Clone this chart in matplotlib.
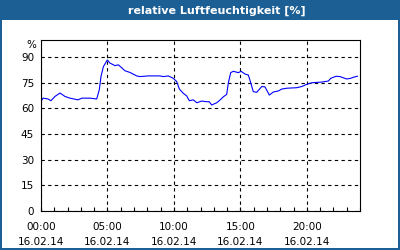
#!/usr/bin/env python3

"""
Relative Luftfeuchtigkeit over one day (16.02.14), drawn as a line chart.
"""

import matplotlib
matplotlib.use('Agg')
import matplotlib.pyplot as plt
from matplotlib.patches import Rectangle
from matplotlib.ticker import MultipleLocator

# Hours since 00:00 and humidity values
hours = [0.0, 0.15, 0.53, 0.75, 1.05, 1.43, 1.8, 2.18, 2.78, 3.08, 3.69, 4.19,
         4.39, 4.51, 4.69, 4.99, 5.19, 5.57, 5.82, 6.32, 6.7, 7.2, 7.45, 8.07,
         8.95, 9.2, 9.58, 9.95, 10.21, 10.41, 10.71, 10.96, 11.16, 11.46, 11.72,
         12.09, 12.47, 12.66, 12.84, 13.22, 13.47, 13.72, 13.97, 14.09, 14.27,
         14.47, 14.85, 15.05, 15.35, 15.6, 15.78, 15.97, 16.23, 16.61, 16.85,
         17.18, 17.48, 17.86, 18.11, 18.49, 19.24, 19.62, 20.0, 20.37, 21.12,
         21.62, 21.8, 22.2, 22.5, 23.0, 23.3, 23.5, 23.8]
humidity = [64, 66, 65.5, 64.5, 67, 69, 67, 66, 65, 66, 66, 65.5,
            71, 78.5, 84.4, 88.3, 86.5, 85, 85.5, 82, 81, 79, 78.6, 79,
            79, 78.6, 79, 77.6, 75.7, 71.3, 68.8, 67.3, 64.5, 65, 63.3,
            64.3, 63.9, 63.9, 62, 63.3, 64.9, 66.8, 68.2, 74.7, 80.9,
            81.7, 80.9, 81.7, 80.1, 79.5, 75, 69.8, 69.4, 72.8, 72.6,
            67.8, 69.6, 70.2, 71.3, 71.8, 72.1, 72.8, 74.1, 75, 75.4,
            76, 77.6, 78.8, 78.6, 77.2, 77.6, 78.2, 78.8]

tickHours = [0, 5, 10, 15, 20]
tickLabels = ['00:00\n16.02.14', '05:00\n16.02.14', '10:00\n16.02.14',
              '15:00\n16.02.14', '20:00\n16.02.14']
yTicks = [0, 15, 30, 45, 60, 75, 90]

titleText = 'relative Luftfeuchtigkeit [%]'
frameBlue = '#1c5f95'


def main():
    W, H = 400, 250
    fig = plt.figure(figsize=(W / 100, H / 100), dpi=100, facecolor=frameBlue)

    # White body below the title bar
    fig.patches.append(Rectangle((2 / W, 2 / H), (W - 4) / W, (H - 22) / H,
                                 transform=fig.transFigure, facecolor='white',
                                 edgecolor='none', zorder=-10))

    fig.text(217 / W, 1 - 10.5 / H, titleText, color='white', fontsize=8,
             fontweight='bold', ha='center', va='center')

    ax = fig.add_axes([41 / W, 1 - 211 / H, (360 - 41) / W, (211 - 40) / H])
    ax.set_zorder(5)
    ax.set_facecolor('white')
    ax.plot(hours, humidity, color='#0000ff', linewidth=0.8)

    ax.set_xlim(0, 24)
    ax.set_ylim(0, 100)
    ax.set_xticks(tickHours)
    ax.set_xticklabels(tickLabels, fontsize=7.5, linespacing=1.6)
    ax.xaxis.set_minor_locator(MultipleLocator(1))
    ax.set_yticks(yTicks)
    ax.set_yticklabels([str(v) for v in yTicks], fontsize=7.5)
    ax.tick_params(axis='x', which='both', direction='in', length=3,
                   width=0.8, pad=8)
    ax.tick_params(axis='y', length=0, pad=5)

    ax.grid(True, which='major', color='black', linestyle=(0, (3, 3)),
            linewidth=0.8)
    for spine in ax.spines.values():
        spine.set_color('black')
        spine.set_linewidth(0.8)

    fig.text(31 / W, 1 - 45 / H, '%', fontsize=7.5, ha='center', va='center')

    fig.savefig('out.png', dpi=100, facecolor=frameBlue)


if __name__ == "__main__":
    main()
